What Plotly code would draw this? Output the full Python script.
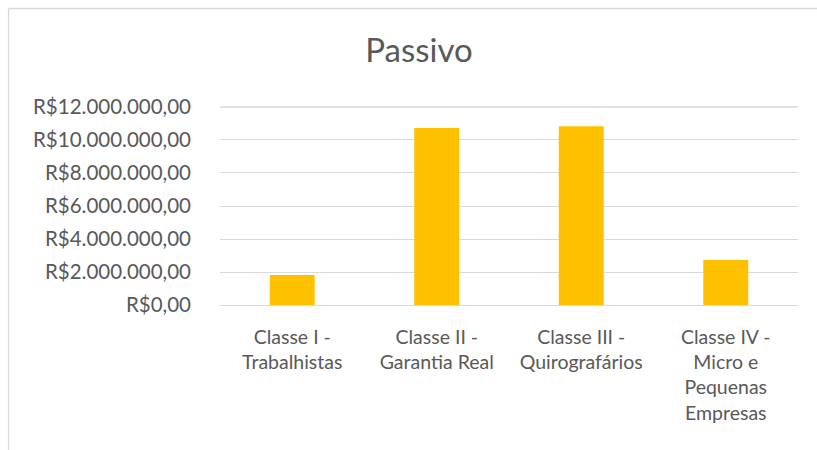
import plotly.graph_objects as go

categories = [
    "Classe I -<br>Trabalhistas",
    "Classe II -<br>Garantia Real",
    "Classe III -<br>Quirografários",
    "Classe IV -<br>Micro e<br>Pequenas<br>Empresas",
]
values = [1820000, 10720000, 10830000, 2730000]
tick_values = [0, 2000000, 4000000, 6000000, 8000000, 10000000, 12000000]
tick_labels = ["R$0,00", "R$2.000.000,00", "R$4.000.000,00", "R$6.000.000,00",
               "R$8.000.000,00", "R$10.000.000,00", "R$12.000.000,00"]

W, H = 817, 450
L, R, T, B = 220, 19, 105.5, 144.5
pw, ph = W - L - R, H - T - B

def px_x(x):
    return (x - L) / pw

def px_y(y):
    return (H - B - y) / ph

FONT = "Lato"
TXT = "#595959"
BORDER = "#D9D9D9"
GRID = "#D9D9D9"

fig = go.Figure(go.Bar(
    x=categories, y=values,
    marker=dict(color="#FFC000", line=dict(width=0)),
    hoverinfo="skip",
))

fig.update_layout(
    width=W, height=H,
    margin=dict(l=L, r=R, t=T, b=B, autoexpand=False),
    paper_bgcolor="white", plot_bgcolor="white",
    bargap=0.689,
    showlegend=False,
    font=dict(family=FONT, color=TXT),
    title=dict(text="Passivo", x=419 / W, xanchor="center", xref="container",
               y=1 - 50 / H, yanchor="middle", yref="container",
               font=dict(family=FONT, size=33, color=TXT)),
)
fig.update_yaxes(
    range=[0, 12060000], tickvals=tick_values, ticktext=tick_labels,
    showgrid=True, gridcolor=GRID, gridwidth=1.3,
    zeroline=False, showline=False, ticks="",
    tickfont=dict(family=FONT, size=20.5, color=TXT),
    ticklabelstandoff=28,
)
fig.update_xaxes(
    showgrid=False, ticks="", showline=True, linecolor=GRID, linewidth=1.3,
    tickfont=dict(family=FONT, size=19.5, color=TXT), tickangle=0,
    ticklabelstandoff=14,
)
# top gridline at the highest tick (Plotly hides gridlines at the plot edge)
fig.add_shape(type="line", xref="paper", yref="y",
              x0=0, x1=1, y0=tick_values[-1], y1=tick_values[-1],
              line=dict(color=GRID, width=1.3), layer="below")
# chart-area border (top and left edges visible in the frame)
fig.add_shape(type="line", xref="paper", yref="paper",
              x0=px_x(8.5), x1=px_x(W + 5), y0=px_y(7.5), y1=px_y(7.5),
              line=dict(color=BORDER, width=1.3), layer="below")
fig.add_shape(type="line", xref="paper", yref="paper",
              x0=px_x(8.5), x1=px_x(8.5), y0=px_y(7.5), y1=px_y(H + 5),
              line=dict(color=BORDER, width=1.3), layer="below")

fig.write_html("out.html", config={"displayModeBar": False},
               post_script="document.body.style.margin='0';document.body.style.overflow='hidden';")
